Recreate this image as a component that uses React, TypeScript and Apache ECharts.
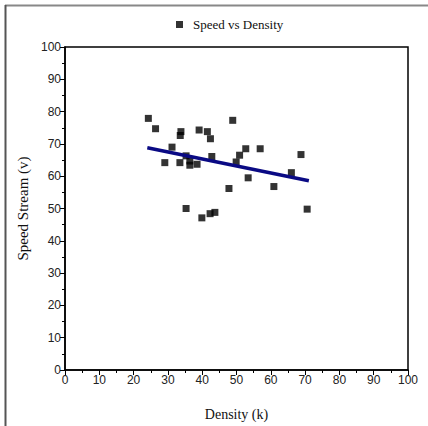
import React, { useEffect, useRef } from "react";
import * as echarts from "echarts";

const densityK = [24.3, 26.4, 33.8, 33.6, 39.1, 41.5, 42.4, 48.9, 31.2, 29.1, 33.5, 35.3, 36.4, 36.4, 38.5, 42.8, 52.7, 50.9, 49.9, 56.9, 68.8, 66.0, 53.4, 60.9, 47.8, 35.3, 39.9, 42.3, 43.7, 70.6];
const speedV = [77.9, 74.7, 73.8, 72.6, 74.3, 73.8, 71.6, 77.3, 69.0, 64.2, 64.2, 66.3, 64.7, 63.4, 63.7, 66.1, 68.5, 66.5, 64.4, 68.5, 66.7, 61.1, 59.5, 56.8, 56.2, 50.0, 47.1, 48.4, 48.8, 49.8];
const fitX = [24.0, 71.1];
const fitY = [68.8, 58.6];

export default function App() {
  const ref = useRef<HTMLDivElement>(null);
  useEffect(() => {
    const chart = echarts.init(ref.current!, null, { renderer: "svg" });
    const axisLabel = { fontFamily: "Liberation Sans, Arial", fontSize: 12, color: "#222", margin: 4 };
    const nameStyle = { fontFamily: "Liberation Serif, Times New Roman", fontSize: 14, color: "#111" };
    chart.setOption({
      animation: false,
      backgroundColor: "#fff",
      graphic: [
        { type: "line", shape: { x1: 5, y1: 5.5, x2: 428, y2: 5.5 }, style: { stroke: "#888", lineWidth: 2 } },
        { type: "line", shape: { x1: 5.5, y1: 5, x2: 5.5, y2: 426 }, style: { stroke: "#555", lineWidth: 2 } },
      ],
      legend: {
        top: 13,
        left: 171,
        itemWidth: 7,
        itemHeight: 7,
        itemGap: 10,
        data: [{ name: "Speed vs Density", icon: "rect" }],
        textStyle: { fontFamily: "Liberation Serif, Times New Roman", fontSize: 13, color: "#111", padding: [0, 0, 0, 5] },
      },
      grid: { left: 65, right: 20, top: 47, bottom: 54, show: true, borderColor: "#000", borderWidth: 1.5, backgroundColor: "transparent" },
      xAxis: {
        type: "value",
        min: 0,
        max: 100,
        interval: 10,
        name: "Density (k)",
        nameLocation: "middle",
        nameGap: 37,
        nameTextStyle: nameStyle,
        axisLine: { show: true, lineStyle: { color: "#000", width: 1.5 } },
        axisTick: { show: true, length: 5, lineStyle: { color: "#000", width: 1 } },
        minorTick: { show: true, splitNumber: 2, length: 3, lineStyle: { color: "#000", width: 1 } },
        splitLine: { show: false },
        axisLabel,
      },
      yAxis: {
        type: "value",
        min: 0,
        max: 100,
        interval: 10,
        name: "Speed Stream (v)",
        nameLocation: "middle",
        nameGap: 30,
        nameTextStyle: { ...nameStyle, fontSize: 15 },
        axisLine: { show: true, lineStyle: { color: "#000", width: 1.5 } },
        axisTick: { show: true, length: 5, lineStyle: { color: "#000", width: 1 } },
        minorTick: { show: true, splitNumber: 2, length: 3, lineStyle: { color: "#000", width: 1 } },
        splitLine: { show: false },
        axisLabel,
      },
      series: [
        {
          name: "Speed vs Density",
          type: "scatter",
          symbol: "rect",
          symbolSize: 7,
          itemStyle: { color: "#000" },
          data: densityK.map((x, i) => [x, speedV[i]]),
          z: 2,
        },
        {
          name: "fit",
          type: "line",
          showSymbol: false,
          symbol: "none",
          lineStyle: { color: "#0a0a84", width: 3.5 },
          data: fitX.map((x, i) => [x, fitY[i]]),
          z: 3,
        },
      ],
    });
    return () => chart.dispose();
  }, []);
  return <div ref={ref} style={{ position: "fixed", left: 0, top: 0, width: 428, height: 426 }} />;
}
